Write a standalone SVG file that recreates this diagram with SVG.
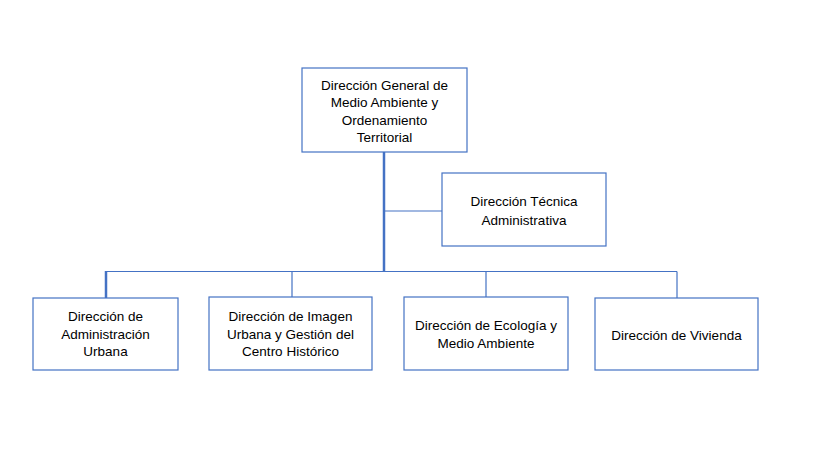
<svg xmlns="http://www.w3.org/2000/svg" width="819" height="460" viewBox="0 0 819 460">
<style>
.box{fill:#fff;stroke:#4472C4;stroke-width:1.2}
.t{font-family:"Liberation Sans",Arial,sans-serif;font-size:13.5px;fill:#000;text-anchor:middle}
.c{stroke:#4472C4;stroke-width:1.2;fill:none}
.trunk{stroke:#4472C4;stroke-width:2.5;fill:none}
</style>
<rect width="819" height="460" fill="#fff"/>
<g id="connectors">
<path class="trunk" d="M384 152V272"/>
<path class="c" d="M384 211H442"/>
<path class="c" d="M106 271.5H677M106 271.5V298M292 271.5V297M486 271.5V297M677 271.5V298"/>
<path class="trunk" d="M106 271V298"/>
</g>
<g id="n0">
<rect class="box" x="302" y="68" width="165" height="84"/>
<text class="t" x="384.5" y="89.5">Dirección General de</text>
<text class="t" x="384.5" y="107">Medio Ambiente y</text>
<text class="t" x="384.5" y="124.5">Ordenamiento</text>
<text class="t" x="384.5" y="142">Territorial</text>
</g>
<g id="n1">
<rect class="box" x="442" y="173" width="164" height="73"/>
<text class="t" x="524" y="206">Dirección Técnica</text>
<text class="t" x="524" y="224.5">Administrativa</text>
</g>
<g id="n2">
<rect class="box" x="33" y="298" width="145" height="72"/>
<text class="t" x="105.5" y="321">Dirección de</text>
<text class="t" x="105.5" y="338.5">Administración</text>
<text class="t" x="105.5" y="356">Urbana</text>
</g>
<g id="n3">
<rect class="box" x="209" y="297" width="163" height="73"/>
<text class="t" x="290.5" y="321">Dirección de Imagen</text>
<text class="t" x="290.5" y="338.5">Urbana y Gestión del</text>
<text class="t" x="290.5" y="356">Centro Histórico</text>
</g>
<g id="n4">
<rect class="box" x="404" y="297" width="164" height="73"/>
<text class="t" x="486" y="330">Dirección de Ecología y</text>
<text class="t" x="486" y="347.5">Medio Ambiente</text>
</g>
<g id="n5">
<rect class="box" x="595" y="298" width="163" height="72"/>
<text class="t" x="676.5" y="339.5">Dirección de Vivienda</text>
</g>
</svg>
